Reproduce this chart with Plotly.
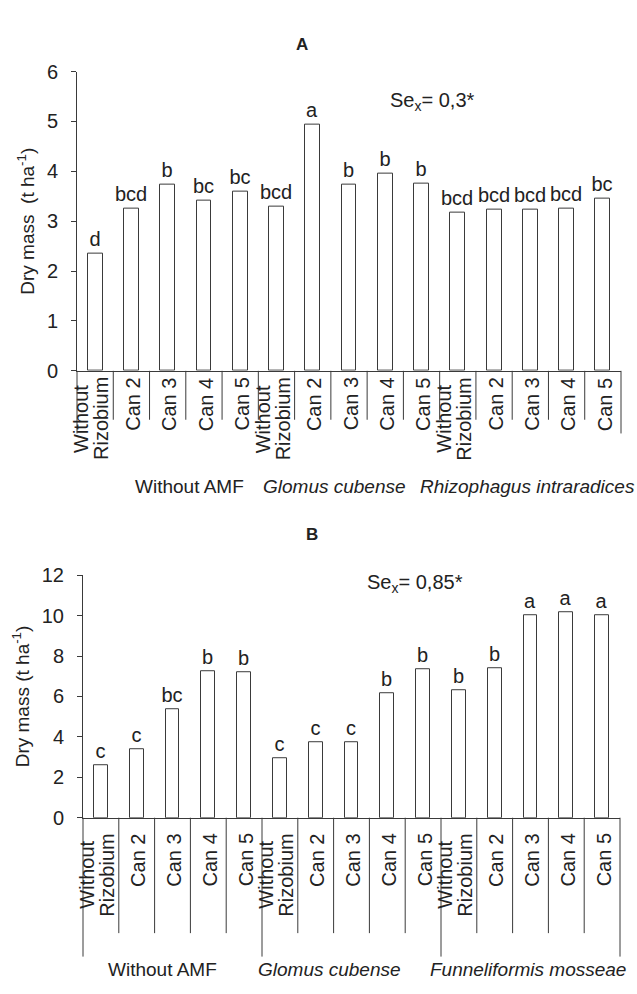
import plotly.graph_objects as go

W, H = 637, 994

# ---------------- data ----------------
categories = ["Without<br>Rizobium", "Can 2", "Can 3", "Can 4", "Can 5"] * 3
values_A = [2.35, 3.25, 3.73, 3.41, 3.59, 3.29, 4.94, 3.73, 3.96, 3.76, 3.18, 3.24, 3.24, 3.25, 3.45]
letters_A = ["d", "bcd", "b", "bc", "bc", "bcd", "a", "b", "b", "b", "bcd", "bcd", "bcd", "bcd", "bc"]
groups_A = ["Without AMF", "<i>Glomus cubense</i>", "<i>Rhizophagus intraradices</i>"]

values_B = [2.6, 3.38, 5.36, 7.27, 7.21, 2.93, 3.72, 3.72, 6.18, 7.37, 6.33, 7.40, 10.03, 10.15, 10.0]
letters_B = ["c", "c", "bc", "b", "b", "c", "c", "c", "b", "b", "b", "b", "a", "a", "a"]
groups_B = ["Without AMF", "<i>Glomus cubense</i>", "<i>Funneliformis mosseae</i>"]

FONT = "Liberation Sans, Arial, sans-serif"
LC = "#3a3a3a"
TC = "#222222"


def px(x):
    return x / W


def py(y):
    return 1 - y / H


xs = list(range(len(categories)))
n = len(categories)

fig = go.Figure()
fig.add_trace(go.Bar(x=xs, y=values_A, text=letters_A, textposition="outside",
                     textfont=dict(size=20, color=TC, family=FONT), cliponaxis=False,
                     constraintext="none",
                     width=0.41, marker=dict(color="white", line=dict(color=LC, width=1)),
                     xaxis="x", yaxis="y", showlegend=False))
fig.add_trace(go.Bar(x=xs, y=values_B, text=letters_B, textposition="outside",
                     textfont=dict(size=20, color=TC, family=FONT), cliponaxis=False,
                     constraintext="none",
                     width=0.39, marker=dict(color="white", line=dict(color=LC, width=1)),
                     xaxis="x2", yaxis="y2", showlegend=False))

# plot areas in pixels
A = dict(x0=77, x1=621, ytop=62, ybot=368)
B = dict(x0=83, x1=620, ytop=577, ybot=825)

common_x = dict(range=[-0.5, n - 0.5], showticklabels=False, ticks="", showline=True,
                linecolor=LC, linewidth=1, showgrid=False, zeroline=False, fixedrange=True)
common_y = dict(showline=True, linecolor=LC, linewidth=1, ticks="outside", ticklen=5,
                tickcolor=LC, showgrid=False, zeroline=False, ticklabelstandoff=9,
                tickfont=dict(size=20, color=TC, family=FONT))

fig.update_layout(
    width=W, height=H, autosize=False,
    margin=dict(l=0, r=0, t=0, b=0),
    paper_bgcolor="white", plot_bgcolor="white",
    font=dict(family=FONT, color=TC),
    bargap=0,
    uniformtext=dict(mode=False),
    xaxis=dict(domain=[px(A["x0"]), px(A["x1"])], anchor="y", **common_x),
    yaxis=dict(domain=[py(A["ybot"]), py(A["ytop"])], anchor="x", range=[0, 6], dtick=1,
               title=dict(text="Dry mass  (t ha<sup>-1</sup>)", font=dict(size=19, color=TC), standoff=7),
               **common_y),
    xaxis2=dict(domain=[px(B["x0"]), px(B["x1"])], anchor="y2", **common_x),
    yaxis2=dict(domain=[py(B["ybot"]), py(B["ytop"])], anchor="x2", range=[0, 12], dtick=2,
                title=dict(text="Dry mass (t ha<sup>-1</sup>)", font=dict(size=19, color=TC), standoff=7),
                **common_y),
)

shapes = []
annotations = []

LABEL_FONT = dict(size=20, color=TC, family=FONT)
PITCH = 20          # px between the lines of a two-line rotated label
HALF_LONG = 43      # half length of the longest rotated line, px


def add_panel(xa, ya, box, inner_bottom, outer_bottom, long_groups, label_gap,
              group_labels, group_x, group_y):
    hgt = box["ybot"] - box["ytop"]
    for k in range(n + 1):
        edge = (k == 0 or k == n or (long_groups and k % 5 == 0))
        bottom = outer_bottom if edge else inner_bottom
        shapes.append(dict(type="line", xref=xa + " domain", yref=ya + " domain",
                           x0=k / n, x1=k / n, y0=0, y1=-(bottom - box["ybot"]) / hgt,
                           line=dict(color=LC, width=1)))
    for i, c in enumerate(categories):
        lines = c.split("<br>")
        m = len(lines)
        for j, t in enumerate(lines):
            if m == 1:
                annotations.append(dict(x=i, y=0, xref=xa, yref=ya, text=t, textangle=-90,
                                        showarrow=False, xanchor="center", yanchor="top",
                                        xshift=2, yshift=-label_gap, font=LABEL_FONT))
            else:
                annotations.append(dict(x=i, y=0, xref=xa, yref=ya, text=t, textangle=-90,
                                        showarrow=False, xanchor="center", yanchor="middle",
                                        xshift=(j - (m - 1) / 2) * PITCH - 4,
                                        yshift=-(label_gap + HALF_LONG), font=LABEL_FONT))
    for g, gx in zip(group_labels, group_x):
        annotations.append(dict(x=px(gx), y=py(group_y), xref="paper", yref="paper", text=g,
                                showarrow=False, xanchor="center", yanchor="middle",
                                font=dict(size=19, color=TC, family=FONT)))


add_panel("x", "y", A, 418, 432, False, 5, groups_A, [189, 334, 527], 486)
add_panel("x2", "y2", B, 943, 967, True, 14, groups_B, [162, 329, 528], 980)

annotations += [
    dict(x=px(302), y=py(22), xref="paper", yref="paper", text="<b>A</b>", showarrow=False,
         font=dict(size=17, color=TC, family=FONT)),
    dict(x=px(312), y=py(535), xref="paper", yref="paper", text="<b>B</b>", showarrow=False,
         font=dict(size=17, color=TC, family=FONT)),
    dict(x=px(477), y=py(78), xref="paper", yref="paper", text="Se<sub>x</sub>= 0,3*", showarrow=False,
         font=dict(size=20, color=TC, family=FONT)),
    dict(x=px(415), y=py(585), xref="paper", yref="paper", text="Se<sub>x</sub>= 0,85*", showarrow=False,
         font=dict(size=20, color=TC, family=FONT)),
]

fig.update_layout(shapes=shapes, annotations=annotations)
fig.write_html("out.html")
